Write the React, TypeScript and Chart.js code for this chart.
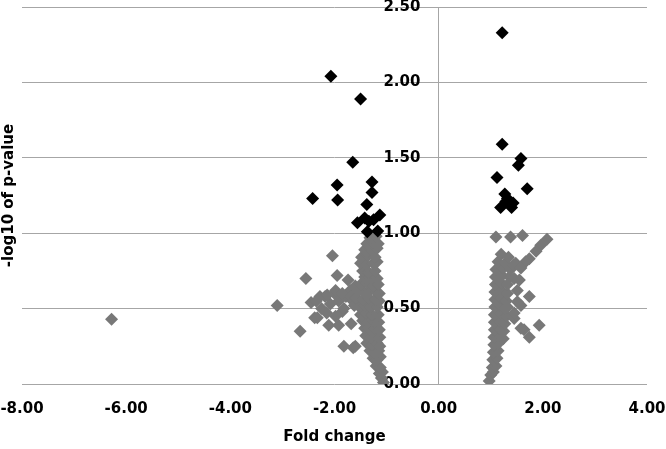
import React, { useEffect, useRef } from 'react';
import { Chart, registerables } from 'chart.js';

Chart.register(...registerables);

const xTickLabels = ['-8.00', '-6.00', '-4.00', '-2.00', '0.00', '2.00', '4.00'];
const yTickLabels = ['0.00', '0.50', '1.00', '1.50', '2.00', '2.50'];
const xAxisTitle = 'Fold change';
const yAxisTitle = '-log10 of p-value';
// fold-change value where the y tick labels are anchored (just left of the 0 line)
const yLabelAnchor = -0.35;

// significant, down-regulated (black)
const downSignificant: [number, number][] = [
  [-2.07, 2.04], [-1.50, 1.89], [-1.65, 1.47], [-1.95, 1.32], [-2.42, 1.23], [-1.94, 1.22],
  [-1.28, 1.34], [-1.28, 1.27], [-1.38, 1.19], [-1.13, 1.12], [-1.56, 1.07], [-1.42, 1.10],
  [-1.34, 1.08], [-1.25, 1.09], [-1.37, 1.01], [-1.17, 1.015],
];

// significant, up-regulated (black)
const upSignificant: [number, number][] = [
  [1.22, 2.33], [1.22, 1.59], [1.58, 1.495], [1.53, 1.45], [1.12, 1.37], [1.70, 1.295],
  [1.27, 1.26], [1.32, 1.23], [1.43, 1.20], [1.19, 1.17], [1.40, 1.17], [1.29, 1.21],
];

// not significant, down (grey)
const downOther: [number, number][] = [
  [-6.28, 0.43], [-3.10, 0.52], [-2.66, 0.35], [-2.55, 0.70], [-2.38, 0.44], [-2.04, 0.85],
  [-1.95, 0.72], [-1.74, 0.69], [-1.82, 0.25], [-1.64, 0.24], [-2.33, 0.44], [-2.11, 0.39],
  [-1.92, 0.39], [-1.85, 0.48], [-1.60, 0.25],
  [-2.45, 0.54], [-2.35, 0.55], [-2.25, 0.50], [-2.18, 0.58], [-2.08, 0.53], [-2.00, 0.60],
  [-1.92, 0.55], [-1.82, 0.50], [-1.78, 0.58], [-1.70, 0.62], [-2.28, 0.58], [-2.15, 0.47],
  [-1.98, 0.45], [-1.65, 0.55], [-1.60, 0.65], [-1.68, 0.40], [-2.14, 0.59], [-1.98, 0.62],
  [-1.85, 0.60], [-1.69, 0.58], [-1.56, 0.61],
  [-1.06, 0.01], [-1.10, 0.04], [-1.14, 0.07], [-1.08, 0.08], [-1.20, 0.12], [-1.12, 0.11],
  [-1.26, 0.17], [-1.18, 0.16], [-1.12, 0.18], [-1.32, 0.22], [-1.24, 0.21], [-1.15, 0.22],
  [-1.38, 0.27], [-1.28, 0.26], [-1.18, 0.27], [-1.13, 0.25], [-1.40, 0.32], [-1.30, 0.31],
  [-1.20, 0.32], [-1.13, 0.31], [-1.42, 0.37], [-1.32, 0.36], [-1.22, 0.37], [-1.14, 0.36],
  [-1.46, 0.42], [-1.36, 0.41], [-1.25, 0.42], [-1.15, 0.41], [-1.50, 0.46], [-1.40, 0.47],
  [-1.28, 0.46], [-1.16, 0.46], [-1.62, 0.52], [-1.52, 0.51], [-1.42, 0.52], [-1.30, 0.51],
  [-1.18, 0.51], [-1.58, 0.57], [-1.46, 0.56], [-1.34, 0.57], [-1.22, 0.56], [-1.14, 0.55],
  [-1.55, 0.62], [-1.44, 0.61], [-1.32, 0.62], [-1.20, 0.61], [-1.14, 0.60], [-1.50, 0.66],
  [-1.38, 0.67], [-1.26, 0.65], [-1.16, 0.66], [-1.42, 0.71], [-1.30, 0.70], [-1.18, 0.70],
  [-1.46, 0.75], [-1.34, 0.74], [-1.22, 0.75], [-1.50, 0.80], [-1.40, 0.79], [-1.26, 0.80],
  [-1.18, 0.81], [-1.48, 0.84], [-1.36, 0.85], [-1.22, 0.84], [-1.42, 0.89], [-1.30, 0.89],
  [-1.18, 0.90], [-1.38, 0.93], [-1.26, 0.94], [-1.16, 0.93], [-1.32, 0.97], [-1.20, 0.98],
];

// not significant, up (grey)
const upOther: [number, number][] = [
  [0.97, 0.02], [1.00, 0.06], [1.05, 0.08], [1.03, 0.11], [1.10, 0.12], [1.04, 0.16],
  [1.12, 0.17], [1.05, 0.21], [1.14, 0.22], [1.06, 0.26], [1.15, 0.27], [1.06, 0.31],
  [1.16, 0.32], [1.24, 0.30], [1.07, 0.36], [1.17, 0.37], [1.25, 0.35], [1.07, 0.41],
  [1.17, 0.42], [1.27, 0.40], [1.07, 0.46], [1.18, 0.47], [1.30, 0.45], [1.08, 0.51],
  [1.18, 0.52], [1.28, 0.50], [1.08, 0.56], [1.19, 0.57], [1.30, 0.55], [1.08, 0.61],
  [1.20, 0.62], [1.32, 0.60], [1.09, 0.66], [1.20, 0.67], [1.32, 0.66], [1.09, 0.71],
  [1.22, 0.72], [1.36, 0.71], [1.10, 0.76], [1.24, 0.77], [1.38, 0.76], [1.14, 0.81],
  [1.28, 0.80], [1.44, 0.79], [1.20, 0.86], [1.34, 0.84],
  [1.10, 0.975], [1.38, 0.975], [1.61, 0.985], [2.08, 0.96], [1.96, 0.92], [1.87, 0.88],
  [1.74, 0.83], [1.67, 0.81], [1.55, 0.69], [1.51, 0.62], [1.74, 0.58], [1.58, 0.52],
  [1.45, 0.435], [1.93, 0.39], [1.64, 0.36], [1.74, 0.31], [1.48, 0.80], [1.58, 0.77],
  [1.45, 0.70], [1.32, 0.51], [1.51, 0.545], [1.45, 0.47], [1.58, 0.37],
];

const toPoints = (arr: [number, number][]) => arr.map(([x, y]) => ({ x, y }));

export default function App() {
  const ref = useRef<HTMLCanvasElement | null>(null);

  useEffect(() => {
    if (!ref.current) return;
    const tickFont = { family: 'DejaVu Sans', size: 15, weight: 'bold' as const, lineHeight: 1.2 };
    const titleFont = { family: 'DejaVu Sans', size: 15, weight: 'bold' as const, lineHeight: 1.2 };
    const gridGrey = '#a6a6a6';
    const chart = new Chart(ref.current, {
      type: 'scatter',
      data: {
        datasets: [
          {
            label: 'significant',
            data: toPoints([...downSignificant, ...upSignificant]),
            backgroundColor: '#000000',
            pointStyle: 'rectRot',
            pointRadius: 6.5,
            pointBorderWidth: 0,
            borderWidth: 0,
          },
          {
            label: 'not significant',
            data: toPoints([...downOther, ...upOther]),
            backgroundColor: '#787878',
            pointStyle: 'rectRot',
            pointRadius: 6.5,
            pointBorderWidth: 0,
            borderWidth: 0,
          },
        ],
      },
      options: {
        responsive: false,
        animation: false,
        devicePixelRatio: 1,
        layout: { padding: { left: 0, right: 19, top: 7, bottom: 0 } },
        plugins: { legend: { display: false }, tooltip: { enabled: false } },
        scales: {
          x: {
            type: 'linear',
            min: -8,
            max: 4,
            ticks: {
              stepSize: 2,
              padding: 16,
              color: '#000',
              font: tickFont,
              callback: (_v: any, i: number) => xTickLabels[i],
            },
            grid: {
              display: true,
              drawTicks: false,
              lineWidth: 1,
              color: (c: any) => (c.tick && c.tick.value === 0 ? gridGrey : 'rgba(0,0,0,0)'),
            },
            border: { display: false },
            title: {
              display: true,
              text: xAxisTitle,
              color: '#000',
              font: titleFont,
              padding: { top: 10, bottom: 3 },
            },
            afterFit: (s: any) => { s.paddingLeft = 0; s.paddingRight = 0; s.height = 65; },
          },
          y: {
            type: 'linear',
            position: { x: yLabelAnchor },
            min: 0,
            max: 2.5,
            ticks: {
              stepSize: 0.5,
              padding: 0,
              color: '#000',
              font: tickFont,
              callback: (_v: any, i: number) => yTickLabels[i],
            },
            grid: { color: gridGrey, lineWidth: 1, drawTicks: false },
            border: { display: false },
            afterFit: (s: any) => { s.width = 0; s.paddingTop = 0; s.paddingBottom = 0; },
          },
          yTitle: {
            type: 'linear',
            position: 'left',
            min: 0,
            max: 1,
            ticks: { display: false },
            grid: { display: false, drawTicks: false },
            border: { display: false },
            title: {
              display: true,
              text: yAxisTitle,
              color: '#000',
              font: titleFont,
              padding: { top: 0, bottom: 4 },
            },
          },
        },
      } as any,
    });
    return () => chart.destroy();
  }, []);

  return (
    <div style={{ position: 'absolute', left: 0, top: 0, width: 666, height: 449, background: '#fff' }}>
      <canvas ref={ref} width={666} height={449} style={{ display: 'block' }} />
    </div>
  );
}
